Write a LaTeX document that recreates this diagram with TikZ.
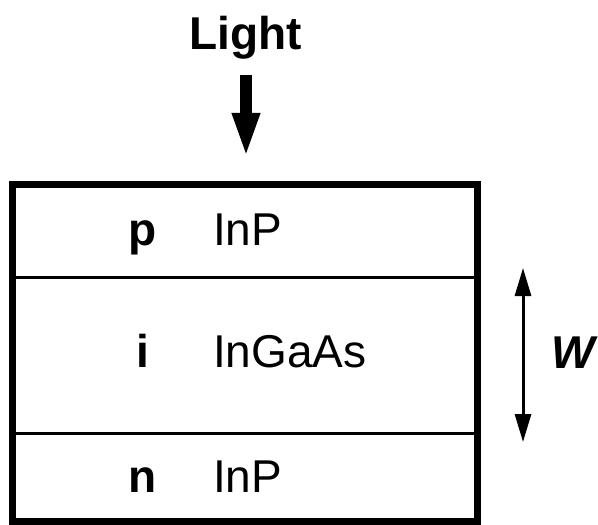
\documentclass[tikz,border=0pt]{standalone}
\usepackage{fontspec}
\setmainfont{Liberation Sans}
\usetikzlibrary{arrows.meta}
\begin{document}
\begin{tikzpicture}[x=1bp,y=-1bp,
  label text/.style={inner sep=0pt,font=\fontsize{46bp}{50bp}\selectfont},
  doping/.style={label text,font=\fontsize{46bp}{50bp}\selectfont\bfseries,anchor=base},
  material/.style={label text,anchor=base west},
  frame/.style={draw=black,line width=7bp},
  divider/.style={draw=black,line width=3bp},
  beam/.style={line width=12bp,-{Triangle[width=25bp,length=45bp]}},
  span/.style={line width=3bp,{Triangle[width=16bp,length=28bp]}-{Triangle[width=16bp,length=28bp]}}]
  \useasboundingbox (0,0) rectangle (598,525);

  % incoming light
  \node[label text,font=\fontsize{46bp}{50bp}\selectfont\bfseries,anchor=base] (light) at (246,50) {Light};
  \coordinate (beamtop) at (246,75);
  \coordinate (beamtip) at (246,158);
  \draw[beam] (beamtop) -- (beamtip);

  % layer stack
  \coordinate (tl) at (12.5,184.5);
  \coordinate (br) at (477.5,521.5);
  \draw[divider] (12.5,277) -- (477.5,277);
  \draw[divider] (12.5,433.5) -- (477.5,433.5);
  \draw[frame] (tl) rectangle (br);

  % layer labels
  \node[doping] (pl) at (143,245) {p};
  \node[material] (pm) at (213,245) {InP};
  \node[doping] (il) at (143,367) {i};
  \node[material] (im) at (213,367) {InGaAs};
  \node[doping] (nl) at (143,492) {n};
  \node[material] (nm) at (213,492) {InP};

  % depletion width
  \coordinate (wtop) at (523,268);
  \coordinate (wbot) at (523,442);
  \draw[span] (wtop) -- (wbot);
  \node[label text,font=\fontsize{46bp}{50bp}\selectfont\bfseries\itshape,anchor=base] (w) at (573,368) {W};
\end{tikzpicture}
\end{document}
